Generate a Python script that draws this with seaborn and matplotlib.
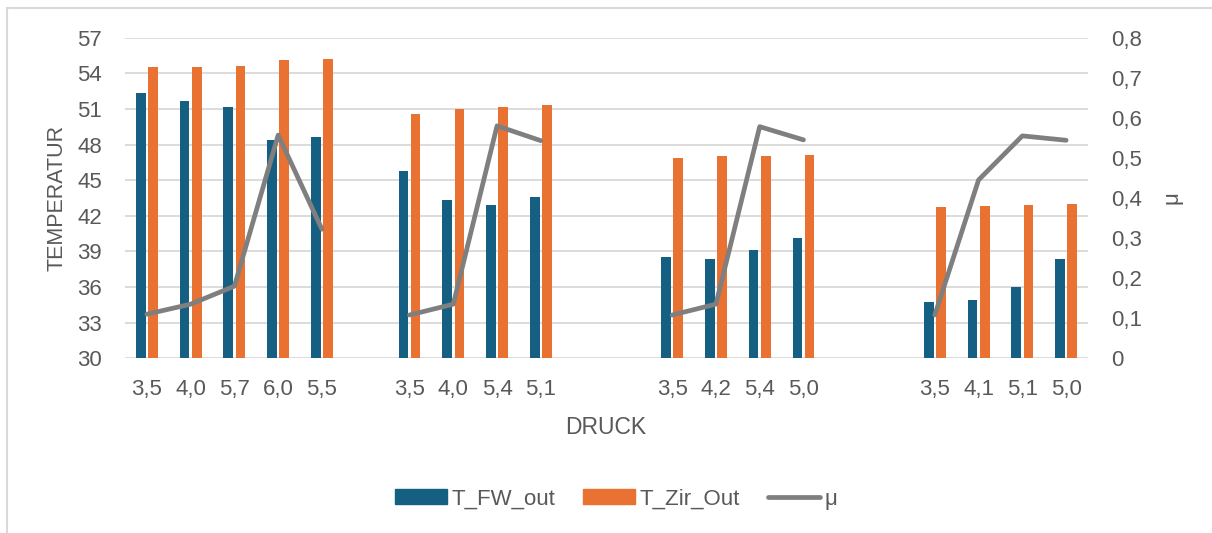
import numpy as np
import pandas as pd
import matplotlib
matplotlib.use('Agg')
import matplotlib.pyplot as plt
from matplotlib.patches import Rectangle
from matplotlib.lines import Line2D
import seaborn as sns

sns.set_style('white')
plt.rcParams['font.family'] = ['Liberation Sans', 'DejaVu Sans']

nan = np.nan
# 22 slots on the x axis, blank slots separate the four test series
druck = ['3,5', '4,0', '5,7', '6,0', '5,5', '',
         '3,5', '4,0', '5,4', '5,1', '', '',
         '3,5', '4,2', '5,4', '5,0', '', '',
         '3,5', '4,1', '5,1', '5,0']
t_fw_out = [52.3, 51.7, 51.2, 48.4, 48.6, nan,
            45.8, 43.3, 42.9, 43.6, nan, nan,
            38.5, 38.4, 39.1, 40.1, nan, nan,
            34.7, 34.9, 36.0, 38.4]
t_zir_out = [54.5, 54.5, 54.6, 55.1, 55.2, nan,
             50.6, 51.0, 51.2, 51.3, nan, nan,
             46.9, 47.0, 47.0, 47.1, nan, nan,
             42.7, 42.8, 42.9, 43.0]
mu = [0.11, 0.135, 0.18, 0.557, 0.322, nan,
      0.108, 0.135, 0.58, 0.543, nan, nan,
      0.108, 0.135, 0.578, 0.545, nan, nan,
      0.108, 0.445, 0.555, 0.544]

blue = '#156082'
orange = '#E97132'
grey = '#7F7F7F'
txt = '#595959'
grid = '#D9D9D9'

df = pd.DataFrame({'slot': range(len(druck)), 'T_FW_out': t_fw_out,
                   'T_Zir_Out': t_zir_out, 'mu': mu})
df['grp'] = df['mu'].isna().cumsum()
long = df.melt(id_vars='slot', value_vars=['T_FW_out', 'T_Zir_Out'],
               var_name='serie', value_name='temp')

fig, ax = plt.subplots(figsize=(12.12, 5.33), dpi=100)
fig.subplots_adjust(left=0.1031, right=0.8977, bottom=0.3278, top=0.9293)

sns.barplot(data=long, x='slot', y='temp', hue='serie', order=list(range(len(druck))),
            palette=[blue, orange], saturation=1, width=0.56, gap=0.21,
            errorbar=None, linewidth=0, legend=False, ax=ax)

ax2 = ax.twinx()
sns.lineplot(data=df.dropna(subset=['mu']), x='slot', y='mu', units='grp',
             estimator=None, color=grey, lw=3.4, solid_capstyle='round',
             legend=False, ax=ax2)

ax.set_xlim(-0.5, len(druck) - 0.5)
ax.set_ylim(30, 57)
ax.set_yticks(range(30, 58, 3))
ax.set_xticks(range(len(druck)))
ax.set_xticklabels(druck)
ax2.set_ylim(0, 0.8)
rt = np.round(np.arange(0, 0.81, 0.1), 1)
ax2.set_yticks(rt)
ax2.set_yticklabels(['0' if v == 0 else f'{v:.1f}'.replace('.', ',') for v in rt])

ax.yaxis.grid(True, color=grid, lw=1.3)
ax.set_axisbelow(True)
for a in (ax, ax2):
    for s in a.spines.values():
        s.set_visible(False)
ax.tick_params(axis='y', length=0, pad=16.5, labelsize=16, labelcolor=txt)
ax.tick_params(axis='x', length=0, pad=15, labelsize=16, labelcolor=txt)
ax2.tick_params(axis='y', length=0, pad=16.5, labelsize=16, labelcolor=txt)

ax.set_xlabel('DRUCK', fontsize=16.5, color=txt)
ax.set_ylabel('TEMPERATUR', fontsize=15.5, color=txt)
ax2.set_ylabel('')
ax.xaxis.set_label_coords(0.5, 0, transform=fig.transFigure)
ax.xaxis.label.set_position((606 / 1212, 1 - 428 / 533))
ax.xaxis.label.set_verticalalignment('center')
ax.yaxis.set_label_coords(57 / 1212, 1 - 198 / 533, transform=fig.transFigure)
ax.yaxis.label.set_verticalalignment('center')
fig.text(1172 / 1212, 1 - 198 / 533, 'μ', rotation=90, fontsize=16,
         color=txt, ha='center', va='center')

handles = [Rectangle((0, 0), 1, 1, color=blue), Rectangle((0, 0), 1, 1, color=orange),
           Line2D([], [], color=grey, lw=3.4, solid_capstyle='round')]
fig.legend(handles, ['T_FW_out', 'T_Zir_Out', 'μ'], loc='center',
           bbox_to_anchor=(616 / 1212, 1 - 499 / 533), ncol=3, frameon=False,
           fontsize=16, labelcolor=txt, handlelength=2.35, handleheight=0.65,
           handletextpad=0.2, columnspacing=1.25)

fig.patches.append(Rectangle((7 / 1212, -0.1), 1.1, 1 - 8 / 533 + 0.1,
                             transform=fig.transFigure, fill=False,
                             edgecolor=grid, lw=1.5))

fig.savefig('out.png', dpi=100)
